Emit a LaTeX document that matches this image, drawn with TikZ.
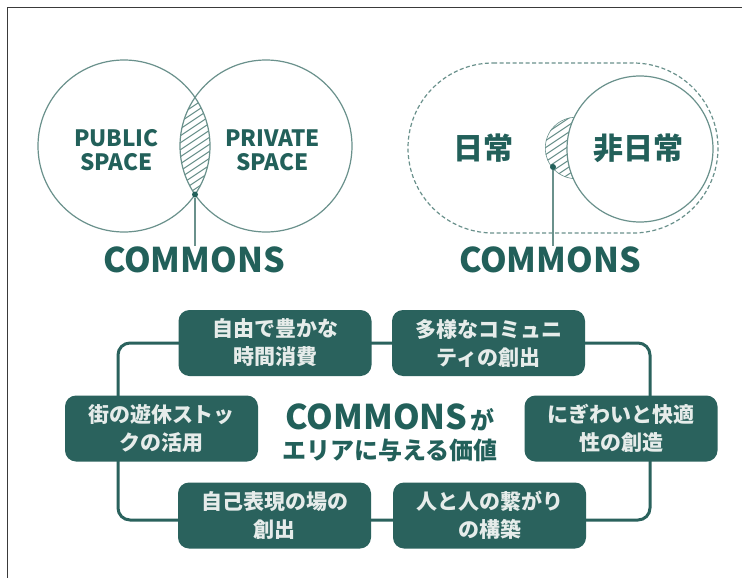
\documentclass[tikz,border=0pt]{standalone}
\usepackage{fontspec}
\setmainfont{Noto Sans CJK JP}
\usetikzlibrary{backgrounds}
\definecolor{tealbox}{HTML}{2A625D}
\definecolor{tealtext}{HTML}{22605A}
\definecolor{ringcol}{HTML}{6A918C}
\definecolor{boxtext}{HTML}{E6ECEA}
\definecolor{framecol}{HTML}{3A3A3A}
\begin{document}
\begin{tikzpicture}[x=1pt,y=-1pt,
  valbox/.style={fill=tealbox, rounded corners=11pt, minimum width=193pt, minimum height=66pt,
    text=boxtext, font=\bfseries\fontsize{21}{28}\selectfont, align=center, inner sep=0pt},
  conn/.style={draw=tealbox, line width=3pt, rounded corners=12pt},
  ringline/.style={draw=ringcol, line width=1.2pt},
  dashring/.style={draw=ringcol, line width=1.2pt, dash pattern=on 4pt off 2.5pt},
  hatchline/.style={draw=ringcol, line width=1pt},
  biglabel/.style={text=tealtext, font=\bfseries\fontsize{34}{34}\selectfont, inner sep=0pt},
  spacelabel/.style={text=tealtext, font=\bfseries\fontsize{22.5}{24}\selectfont, align=center, inner sep=0pt},
  jplabel/.style={text=tealtext, font=\bfseries\fontsize{30}{30}\selectfont, inner sep=0pt},
  dotnode/.style={circle, fill=tealtext, inner sep=0pt, minimum size=6pt},
  pointer/.style={draw=ringcol, line width=1.2pt}
]
\useasboundingbox (0,0) rectangle (742,578);
% frame
\draw[framecol, line width=1.5pt] (7.5,578) -- (7.5,7.5) -- (742,7.5);

% ---------- left Venn ----------
\coordinate (vl) at (124,146);
\coordinate (vr) at (266,146);
\begin{scope}
  \clip (vl) circle (86);
  \clip (vr) circle (86);
  \foreach \yy in {70,77,...,230} \draw[hatchline] (150,\yy+30) -- (240,\yy-30);
\end{scope}
\draw[ringline] (vl) circle (86);
\draw[ringline] (vr) circle (86);
\node[spacelabel] (pub) at (116.5,150) {PUBLIC\\SPACE};
\node[spacelabel] (pri) at (272.5,150) {PRIVATE\\SPACE};
\node[dotnode] (dl) at (195,194.5) {};
\node[biglabel] (cml) at (194,259.5) {COMMONS};
\draw[pointer] (dl) -- (dl |- cml.north);

% ---------- right diagram ----------
\draw[dashring] (493,63) -- (633,63) arc (-90:90:85) -- (493,233) arc (90:270:85) -- cycle;
\coordinate (rc) at (640,149);
\coordinate (sc) at (576,148);
\begin{scope}
  \clip (sc) circle (31);
  \begin{scope}[even odd rule]
    \clip (0,0) rectangle (742,578) (rc) circle (73);
    \foreach \yy in {100,107,...,200} \draw[hatchline] (530,\yy+30) -- (620,\yy-30);
    \draw[ringline] (sc) circle (31);
  \end{scope}
\end{scope}
\draw[ringline] (rc) circle (73);
\node[jplabel] (nic) at (483,148) {日常};
\node[jplabel] (hin) at (638,148) {非日常};
\node[dotnode] (dr) at (553,167) {};
\node[biglabel] (cmr) at (550,259.5) {COMMONS};
\draw[pointer] (dr) -- (dr |- cmr.north);

% ---------- value diagram ----------
\node[valbox] (tl) at (275,343) {自由で豊かな\\時間消費};
\node[valbox] (tr) at (488.5,343) {多様なコミュニ\\ティの創出};
\node[valbox] (ml) at (161.5,428.5) {街の遊休ストッ\\クの活用};
\node[valbox] (mr) at (621,428.5) {にぎわいと快適\\性の創造};
\node[valbox] (bl) at (274.5,515.5) {自己表現の場の\\創出};
\node[valbox] (br) at (489.5,515.5) {人と人の繋がり\\の構築};
\coordinate (ne) at (650,343);
\coordinate (se) at (650,520);
\coordinate (sw) at (118,520);
\coordinate (nw) at (118,343);
\begin{pgfonlayer}{background}
  \fill[white] (0,0) rectangle (742,578);
  \draw[conn] (tl.center) -- (tr.center) -- (ne) -- (mr.center -| ne) -- (se)
    -- (br.center |- se) -- (bl.center |- se) -- (sw) -- (ml.center -| sw) -- (nw) -- cycle;
\end{pgfonlayer}
\node[text=tealtext, inner sep=0pt] (ct1) at (390,417)
  {{\bfseries\fontsize{34}{34}\selectfont COMMONS}\hspace{3pt}{\bfseries\fontsize{24}{24}\selectfont が}};
\node[text=tealtext, inner sep=0pt, font=\bfseries\fontsize{24}{24}\selectfont] (ct2) at (390,450) {エリアに与える価値};
\end{tikzpicture}
\end{document}
